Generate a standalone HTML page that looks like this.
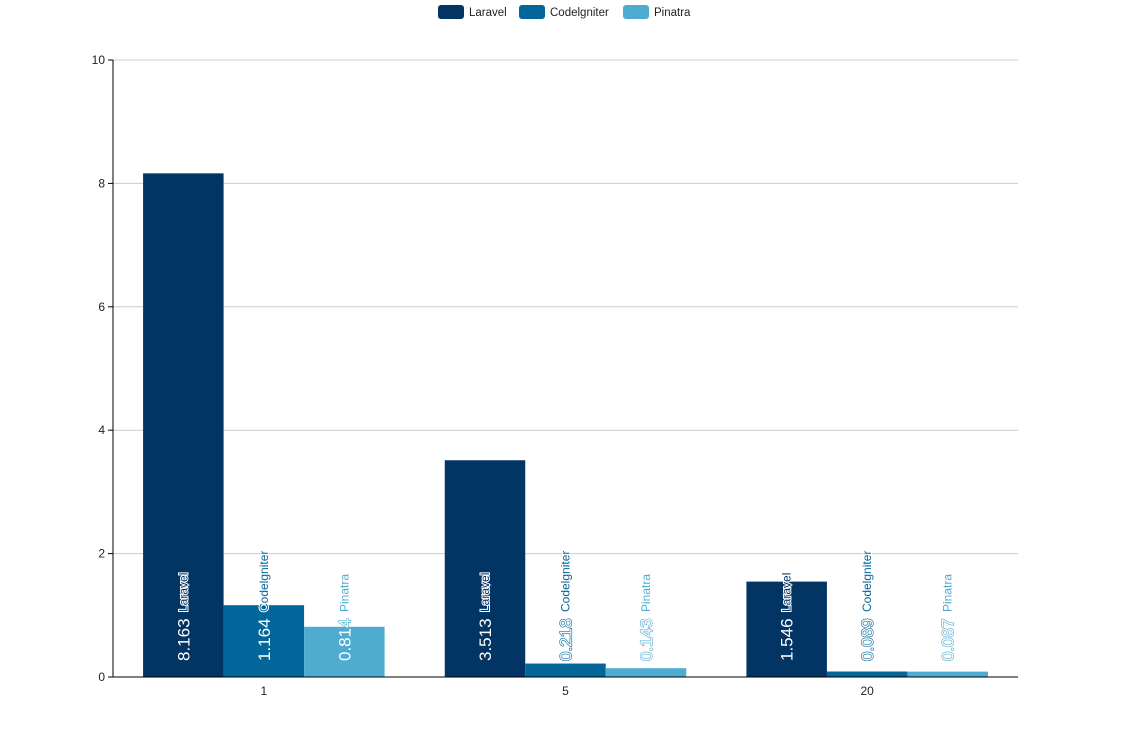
<!DOCTYPE html>
<html><head><meta charset="utf-8"><style>
body{margin:0;background:#fff;font-family:"Liberation Sans",sans-serif}
svg text{font-family:"Liberation Sans",sans-serif}
</style></head><body>
<svg width="1132" height="737">
<g id="legend"></g>
<g id="grid"></g>
<g id="bars"></g>
<g id="axes"></g>
</svg>
<script>
const categories=["1","5","20"];
const seriesNames=["Laravel","Codelgniter","Pinatra"];
const laravel=[8.163,3.513,1.546];
const codeigniter=[1.164,0.218,0.089];
const pinatra=[0.814,0.143,0.087];
const yTicks=[0,2,4,6,8,10];
const colors=["#023464","#03669a","#50abd0"];
const series=[laravel,codeigniter,pinatra];
const NS="http://www.w3.org/2000/svg";
const FF='"Liberation Sans", Arial, sans-serif';
const L=113,R=1018,T=60,B=677,yMax=10;
const y=v=>B-(v/yMax)*(B-T);
const bw=(R-L)/categories.length;
const barW=80.5;
function mk(tag,attrs,parent,txt){const e=document.createElementNS(NS,tag);for(const k in attrs)e.setAttribute(k,attrs[k]);if(txt!==undefined)e.textContent=txt;parent.appendChild(e);return e;}
const grid=document.getElementById('grid'),bars=document.getElementById('bars'),axes=document.getElementById('axes'),legend=document.getElementById('legend');
yTicks.forEach(t=>{
  if(t>0){const g=mk('line',{x1:L,x2:R,y1:y(t),y2:y(t),stroke:'#ccc','stroke-width':1},grid);
  
  }
  const tk=mk('line',{x1:L-5,x2:L,y1:y(t),y2:y(t),stroke:'#000'},axes);
  
  
  const lb=mk('text',{x:L-8,y:y(t)+4,'text-anchor':'end','font-size':12,fill:'#222','font-family':FF},axes,String(t));
  
  
});
mk('line',{x1:L,x2:L,y1:T,y2:B,stroke:'#000'},axes);
mk('line',{x1:L,x2:R,y1:B,y2:B,stroke:'#000'},axes);
categories.forEach((c,i)=>{
  const cx=L+bw*(i+0.5);
  const lb=mk('text',{x:cx,y:B+18,'text-anchor':'middle','font-size':12,fill:'#222','font-family':FF},axes,c);
  
  
  series.forEach((s,j)=>{
    const x0=cx-1.5*barW+j*barW;
    const r=mk('rect',{x:x0,y:y(s[i]),width:barW,height:B-y(s[i]),fill:colors[j]},bars);
    
    
    const bx=x0+barW/2;
    const tf=`translate(${bx+6},661) rotate(-90)`;
    const o=mk('text',{transform:tf,'font-size':17,'font-family':FF,fill:'#ffffff',stroke:colors[j],'stroke-width':1.2},bars,String(s[i]));
    
    
    const v=mk('text',{transform:tf,'font-size':17,'font-family':FF,fill:'#ffffff'},bars,String(s[i]));
    
    
    const n=mk('text',{transform:`translate(${bx+4},612) rotate(-90)`,'font-size':12,'font-family':FF,fill:colors[j],stroke:'#fff','stroke-width':2,'paint-order':'stroke'},bars,seriesNames[j]);
    
    
  });
});
const lx=[438,519,623];
seriesNames.forEach((n,j)=>{
  const g=mk('g',{},legend);
  
  
  mk('rect',{x:lx[j],y:5,width:26,height:14,rx:3,fill:colors[j]},g);
  mk('text',{x:lx[j]+31,y:16,'font-size':11.5,fill:'#222','font-family':FF},g,n);
});
</script>
</body></html>
